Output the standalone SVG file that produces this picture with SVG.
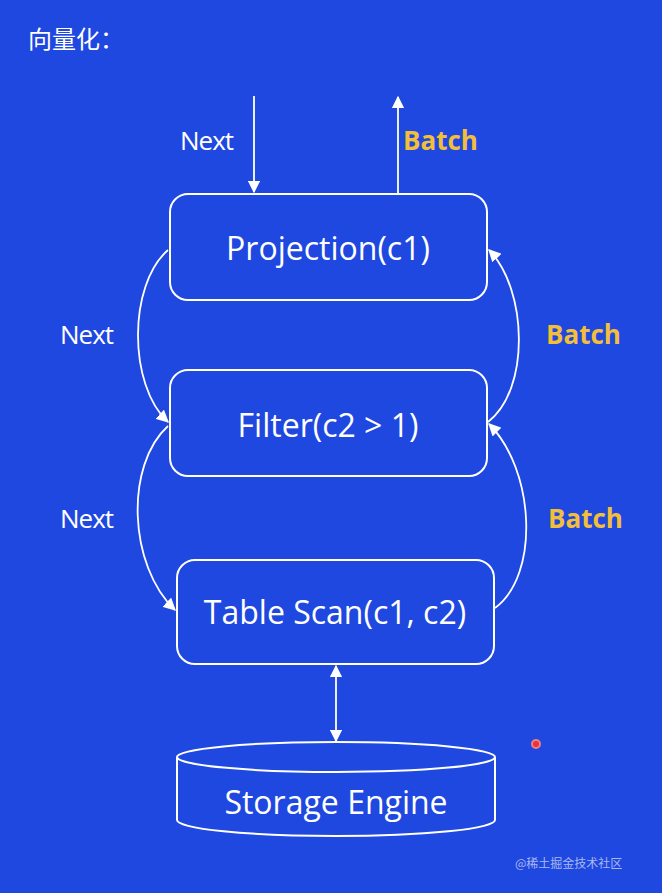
<svg xmlns="http://www.w3.org/2000/svg" width="662" height="893" viewBox="0 0 662 893">
<defs>
<style>
.box{fill:none;stroke:#fff;stroke-width:2}
.t{fill:#fff;font-family:"Open Sans","Noto Sans",sans-serif;font-size:32px;text-anchor:middle}
.n{fill:#fff;font-family:"Open Sans","Noto Sans",sans-serif;font-size:26px;letter-spacing:-1px}
.b{fill:#f2bf3a;font-family:"Open Sans","Noto Sans",sans-serif;font-size:26px;font-weight:bold}
.c{fill:none;stroke:#fff;stroke-width:1.8}
</style>
<marker id="a" viewBox="0 0 10 10" refX="9" refY="5" markerWidth="7" markerHeight="7" orient="auto-start-reverse"><path d="M0,0L10,5L0,10z" fill="#fff"/></marker>
</defs>
<rect width="662" height="893" fill="#1f48e0"/>
<text x="28" y="48" fill="#fff" font-family="Noto Sans CJK SC,sans-serif" font-size="24">向量化：</text>
<g id="projection"><rect class="box" x="170" y="194" width="317" height="106" rx="18"/><text class="t" x="328" y="260">Projection(c1)</text></g>
<g id="filter"><rect class="box" x="170" y="370" width="317" height="106" rx="18"/><text class="t" x="328" y="437">Filter(c2 &gt; 1)</text></g>
<g id="scan"><rect class="box" x="177" y="560" width="317" height="104" rx="18"/><text class="t" x="335" y="624">Table Scan(c1, c2)</text></g>
<g id="storage">
<path class="box" d="M177,757 L177,820 A159,16 0 0 0 495,820 L495,757"/>
<ellipse class="box" cx="336" cy="757" rx="159" ry="15"/>
<text class="t" x="336" y="814">Storage Engine</text>
</g>
<g id="connectors">
<path class="c" d="M254,96 L254,192" marker-end="url(#a)"/>
<path class="c" d="M398,194 L398,97" marker-end="url(#a)"/>
<path class="c" d="M168,250 C128,285 128,385 168,422" marker-end="url(#a)"/>
<path class="c" d="M168,426 C125,465 128,565 175,610" marker-end="url(#a)"/>
<path class="c" d="M488,422 C530,390 528,290 489,250" marker-end="url(#a)"/>
<path class="c" d="M495,608 C540,575 535,470 489,424" marker-end="url(#a)"/>
<path class="c" d="M336,666 L336,741" marker-start="url(#a)" marker-end="url(#a)"/>
</g>
<text class="n" x="180" y="150">Next</text>
<text class="b" x="403" y="150">Batch</text>
<text class="n" x="60" y="344">Next</text>
<text class="b" x="546" y="344">Batch</text>
<text class="n" x="60" y="528">Next</text>
<text class="b" x="548" y="528">Batch</text>
<circle cx="536" cy="744" r="4" fill="#e8323c" stroke="#f08080" stroke-width="2"/>
<text x="515" y="868" fill="#aab8f0" font-family="Noto Sans CJK SC,sans-serif" font-size="12">@稀土掘金技术社区</text>
</svg>
